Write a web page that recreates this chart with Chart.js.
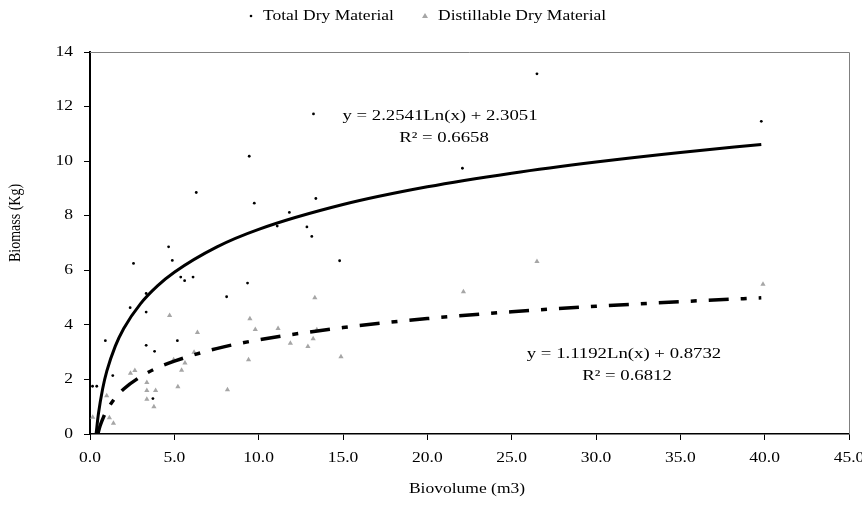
<!DOCTYPE html>
<html>
<head>
<meta charset="utf-8">
<script src="https://cdn.jsdelivr.net/npm/chart.js@4"></script>
<style>
  html, body { margin: 0; padding: 0; background: #fff; }
  #wrap { width: 862px; height: 509px; }
</style>
</head>
<body>
<div id="wrap"><canvas id="c" width="862" height="509"></canvas></div>
<script>
// ── Data ────────────────────────────────────────────────────────────────────

const totalX = [0.15, 0.4, 0.91, 1.35, 2.38, 2.58, 3.33, 3.33, 3.33, 3.83, 3.73, 4.66, 4.88, 5.18, 5.38, 5.61,
                6.11, 6.3, 8.1, 9.34, 9.44, 9.74, 11.1, 11.82, 12.86, 13.15, 13.25, 13.39, 14.8, 22.08, 26.5, 39.8];
const totalY = [1.75, 1.75, 3.42, 2.14, 4.63, 6.25, 5.15, 4.47, 3.25, 3.03, 1.30, 6.86, 6.36, 3.42, 5.75, 5.62,
                5.75, 8.85, 5.03, 5.53, 10.18, 8.46, 7.62, 8.12, 7.59, 7.24, 11.73, 8.63, 6.35, 9.74, 13.2, 11.46];

const distX = [0.16, 0.99, 1.15, 1.39, 2.4, 2.66, 3.37, 3.37, 3.37, 3.89, 3.79, 4.72, 4.96, 5.21, 5.43, 5.63,
               6.17, 6.37, 8.15, 9.4, 9.48, 9.8, 11.15, 11.88, 12.92, 13.23, 13.33, 13.45, 14.88, 22.14, 26.5, 39.9];
const distY = [0.61, 1.40, 0.60, 0.39, 2.23, 2.33, 1.89, 1.59, 1.27, 1.59, 1.00, 4.34, 2.72, 1.73, 2.34, 2.6,
               3.0, 3.72, 1.62, 2.72, 4.22, 3.83, 3.87, 3.33, 3.21, 3.49, 4.99, 3.82, 2.83, 5.21, 6.32, 5.49];

// trend curves
const trendTotX = [0.36, 0.5, 0.75, 1, 1.5, 2, 3, 4, 5, 7.5, 10, 15, 20, 25, 30, 35, 39.8];
const trendTotY = [0, 0.74, 1.66, 2.31, 3.22, 3.87, 4.78, 5.43, 5.93, 6.85, 7.5, 8.41, 9.06, 9.56, 9.97, 10.32, 10.61];
const trendDistX = [0.46, 0.6, 0.8, 1, 1.5, 2, 3, 4, 5, 7.5, 10, 15, 20, 25, 30, 35, 39.8];
const trendDistY = [0, 0.30, 0.62, 0.87, 1.33, 1.65, 2.10, 2.43, 2.67, 3.13, 3.45, 3.90, 4.23, 4.48, 4.68, 4.85, 4.99];

const seriesNames = ['Total Dry Material', 'Distillable Dry Material'];
const eqTotal = ['y = 2.2541Ln(x) + 2.3051', 'R\u00B2 = 0.6658'];
const eqDist  = ['y = 1.1192Ln(x) + 0.8732', 'R\u00B2 = 0.6812'];
const xTitle = 'Biovolume (m3)';
const yTitle = 'Biomass (Kg)';

const FONT = '"Liberation Serif", "DejaVu Serif", serif';
const GREY_TRI = '#a6a6a6';
const STRETCH = 1.25;   // the source picture's text is drawn wide

const pts = (xs, ys) => xs.map((x, i) => ({ x, y: ys[i] }));

// text helper: serif, horizontally stretched like the source
function wide(ctx, text, x, y, size, align = 'center') {
  ctx.save();
  ctx.translate(x, y);
  ctx.scale(STRETCH, 1);
  ctx.font = size + 'px ' + FONT;
  ctx.textAlign = align;
  ctx.textBaseline = 'middle';
  ctx.fillText(text, 0, 0);
  ctx.restore();
}

// ── Extras: frame, tick labels, titles, legend, equations ──────────────────

const extras = {
  id: 'extras',
  afterDraw(chart) {
    const { ctx, chartArea: a, scales } = chart;
    ctx.save();
    // grey frame on top and right
    ctx.strokeStyle = '#808080';
    ctx.lineWidth = 1;
    ctx.beginPath();
    ctx.moveTo(a.left, a.top + 0.5);
    ctx.lineTo(a.right + 0.5, a.top + 0.5);
    ctx.lineTo(a.right + 0.5, a.bottom);
    ctx.stroke();

    ctx.fillStyle = '#000';
    // tick labels
    scales.x.ticks.forEach(t => {
      wide(ctx, t.value.toFixed(1), scales.x.getPixelForValue(t.value), a.bottom + 24, 14);
    });
    scales.y.ticks.forEach(t => {
      wide(ctx, String(t.value), a.left - 17, scales.y.getPixelForValue(t.value), 14, 'right');
    });

    // axis titles
    wide(ctx, xTitle, 467, 489, 14);
    ctx.save();
    ctx.translate(15, 223);
    ctx.rotate(-Math.PI / 2);
    ctx.scale(1, STRETCH);
    ctx.font = '14px ' + FONT;
    ctx.textAlign = 'center';
    ctx.textBaseline = 'middle';
    ctx.fillText(yTitle, 0, 0);
    ctx.restore();

    // legend
    const ly = 16;
    ctx.beginPath();
    ctx.arc(251, ly, 1.3, 0, Math.PI * 2);
    ctx.fill();
    wide(ctx, seriesNames[0], 263, ly, 14, 'left');
    ctx.fillStyle = GREY_TRI;
    ctx.beginPath();
    ctx.moveTo(425, ly - 3);
    ctx.lineTo(428, ly + 2);
    ctx.lineTo(422, ly + 2);
    ctx.closePath();
    ctx.fill();
    ctx.fillStyle = '#000';
    wide(ctx, seriesNames[1], 438, ly, 14, 'left');

    // equations
    wide(ctx, eqTotal[0], 440, 116, 15);
    wide(ctx, eqTotal[1], 444, 138, 15);
    wide(ctx, eqDist[0], 624, 354, 15);
    wide(ctx, eqDist[1], 627, 376, 15);
    ctx.restore();
  }
};

new Chart(document.getElementById('c'), {
  type: 'scatter',
  data: {
    datasets: [
      {
        label: 'Trend total',
        type: 'line',
        data: pts(trendTotX, trendTotY),
        borderColor: '#000',
        borderWidth: 3,
        pointRadius: 0,
        cubicInterpolationMode: 'monotone',
        order: 1,
      },
      {
        label: 'Trend distillable',
        type: 'line',
        data: pts(trendDistX, trendDistY),
        borderColor: '#000',
        borderWidth: 3.5,
        borderDash: [20, 12, 6, 12],
        pointRadius: 0,
        cubicInterpolationMode: 'monotone',
        order: 2,
      },
      {
        label: seriesNames[0],
        data: pts(totalX, totalY),
        backgroundColor: '#000',
        borderColor: '#000',
        pointRadius: 1.4,
        borderWidth: 0,
        order: 3,
      },
      {
        label: seriesNames[1],
        data: pts(distX, distY),
        pointStyle: 'triangle',
        backgroundColor: GREY_TRI,
        borderColor: GREY_TRI,
        pointRadius: 3,
        borderWidth: 0,
        order: 4,
      },
    ],
  },
  options: {
    responsive: false,
    animation: false,
    layout: { padding: { top: 52, right: 13, left: 0, bottom: 0 } },
    plugins: { legend: { display: false }, tooltip: { enabled: false } },
    scales: {
      x: {
        type: 'linear',
        min: 0, max: 45,
        afterFit: s => { s.height = 75; },
        border: { color: '#000', width: 1.5 },
        grid: { drawOnChartArea: false, drawTicks: true, tickLength: 6, color: '#000' },
        ticks: { stepSize: 5, display: false },
      },
      y: {
        min: 0, max: 14,
        afterFit: s => { s.width = 90; },
        border: { color: '#000', width: 2 },
        grid: { drawOnChartArea: false, drawTicks: true, tickLength: 6, color: '#000' },
        ticks: { stepSize: 2, display: false },
      },
    },
  },
  plugins: [extras],
});
</script>
</body>
</html>
